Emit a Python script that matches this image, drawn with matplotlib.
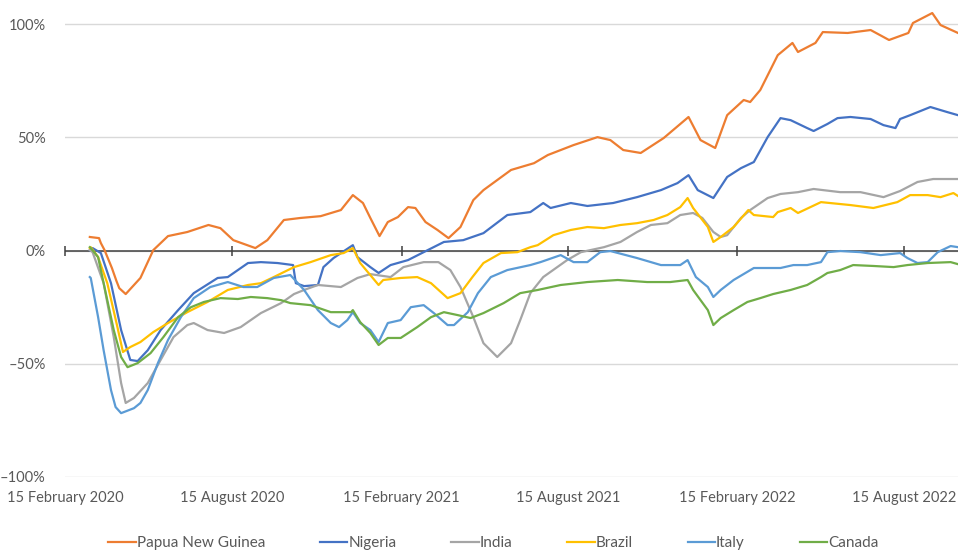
import matplotlib
matplotlib.use("Agg")
import matplotlib.pyplot as plt
import matplotlib.ticker as mticker
import pandas as pd

plt.rcParams["font.family"] = ["Lato", "DejaVu Sans"]

START = pd.Timestamp("2020-02-15")

# Change versus baseline (%), sampled at days since 15 February 2020
days_png = [27, 37, 39, 43, 51, 56, 59, 66, 82, 96, 112, 133, 156, 169, 183, 207, 220, 238,
            256, 278, 300, 313, 324, 332, 342, 351, 362, 373, 381, 392, 405, 417, 430, 444,
            455, 485, 510, 525, 553, 579, 593, 607, 626, 651, 678, 691, 707, 720, 738, 745,
            756, 775, 791, 797, 816, 824, 851, 876, 896, 917, 922, 943, 952, 971]
pct_png = [6.0, 5.5, 3.3, 0.2, -7.7, -13.5, -16.6, -19.2, -12.1, 0.2, 6.4, 8.2, 11.3, 9.9,
           4.6, 1.1, 4.6, 13.5, 14.4, 15.2, 17.9, 24.5, 21.0, 14.4, 6.4, 12.6, 14.8, 19.2,
           18.8, 12.6, 9.1, 5.5, 10.4, 22.3, 26.7, 35.6, 38.6, 42.2, 46.6, 50.1, 48.8, 44.4,
           43.1, 49.7, 59.0, 48.8, 45.3, 59.8, 66.5, 65.6, 70.9, 86.3, 91.7, 87.7, 91.7, 96.5,
           96.1, 97.4, 93.0, 96.1, 100.5, 104.9, 99.6, 96.1]

days_nga = [27, 30, 39, 50, 61, 71, 79, 90, 104, 123, 140, 166, 177, 199, 213, 231, 248,
            251, 260, 275, 281, 292, 313, 318, 332, 341, 354, 373, 390, 412, 433, 455, 481,
            506, 520, 528, 550, 568, 596, 622, 648, 666, 678, 688, 705, 720, 735, 749, 764,
            778, 789, 807, 814, 829, 840, 854, 876, 890, 903, 908, 919, 941, 959, 971]
pct_nga = [0.2, 1.1, -1.1, -14.4, -35.1, -48.3, -48.8, -44.0, -35.1, -26.3, -18.8, -12.1,
           -11.7, -5.5, -5.1, -5.5, -6.4, -14.4, -15.7, -15.2, -7.3, -3.3, 2.4, -2.9, -7.3,
           -9.9, -6.4, -4.2, -0.7, 3.8, 4.6, 7.7, 15.7, 17.0, 21.0, 18.8, 21.0, 19.7, 21.0,
           23.6, 26.7, 29.8, 33.3, 26.7, 23.2, 32.5, 36.4, 39.1, 50.1, 58.5, 57.6, 54.1, 52.8,
           55.9, 58.5, 59.0, 58.1, 55.4, 54.1, 58.1, 59.8, 63.4, 61.2, 59.8]

days_ind = [27, 30, 42, 53, 61, 66, 75, 90, 104, 118, 133, 140, 155, 173, 191, 213, 235,
            249, 260, 275, 300, 318, 332, 354, 368, 390, 406, 419, 430, 444, 455, 470, 485,
            495, 506, 520, 546, 561, 586, 604, 622, 637, 655, 669, 683, 693, 705, 713, 720,
            735, 745, 764, 778, 797, 814, 843, 865, 890, 908, 927, 944, 971]
pct_ind = [0.2, -0.7, -14.4, -38.2, -58.5, -67.3, -65.1, -58.5, -48.3, -38.2, -32.9, -32.0,
           -35.1, -36.4, -33.8, -27.6, -23.2, -19.2, -17.4, -15.2, -16.1, -12.1, -10.4, -11.7,
           -7.3, -5.1, -5.1, -8.6, -16.1, -29.4, -40.9, -47.0, -40.9, -30.7, -18.8, -11.7,
           -4.2, -0.7, 1.5, 3.8, 8.2, 11.3, 12.1, 15.7, 16.6, 14.4, 8.2, 6.0, 6.8, 14.4, 17.9,
           23.2, 25.0, 25.8, 27.2, 25.8, 25.8, 23.6, 26.3, 30.3, 31.6, 31.6]

days_bra = [27, 28, 36, 46, 57, 63, 71, 82, 96, 112, 133, 155, 177, 199, 213, 227, 249, 267,
            289, 303, 313, 321, 341, 346, 365, 383, 398, 416, 430, 443, 455, 474, 492, 506,
            514, 531, 550, 568, 586, 604, 622, 640, 655, 669, 677, 683, 699, 705, 713, 727,
            743, 749, 770, 775, 789, 797, 822, 854, 879, 905, 919, 938, 952, 966, 971]
pct_bra = [1.1, 1.5, -2.9, -14.4, -33.8, -44.8, -42.6, -40.4, -36.0, -32.0, -27.2, -22.7,
           -17.4, -15.2, -14.4, -11.7, -7.3, -5.1, -2.0, -1.1, 1.1, -5.5, -15.2, -13.0, -12.1,
           -11.7, -14.4, -21.0, -18.8, -11.7, -5.5, -1.1, -0.7, 1.5, 2.4, 6.8, 9.1, 10.4, 9.9,
           11.3, 12.1, 13.5, 15.7, 19.2, 23.2, 18.8, 10.4, 3.8, 6.0, 10.4, 17.9, 15.7, 14.8,
           17.0, 18.8, 16.6, 21.4, 20.1, 18.8, 21.4, 24.5, 24.5, 23.6, 25.4, 24.1]

days_ita = [27, 28, 36, 42, 50, 55, 61, 75, 82, 90, 101, 112, 126, 140, 158, 177, 194, 209,
            227, 245, 260, 275, 289, 298, 307, 313, 321, 332, 341, 351, 365, 376, 390, 401,
            416, 423, 438, 449, 463, 481, 506, 517, 539, 553, 568, 582, 593, 622, 648, 669,
            677, 686, 699, 705, 713, 727, 749, 778, 792, 807, 822, 829, 843, 865, 887, 908,
            916, 927, 938, 949, 963, 971]
pct_ita = [-11.7, -12.1, -29.4, -44.0, -61.6, -69.1, -71.8, -69.6, -67.3, -61.6, -49.7,
           -39.5, -29.4, -21.0, -16.1, -13.9, -16.1, -16.1, -12.1, -10.8, -17.4, -26.3, -32.0,
           -33.8, -30.7, -27.2, -32.0, -35.1, -40.4, -32.0, -30.7, -25.0, -24.1, -27.6, -32.9,
           -32.9, -27.2, -18.8, -11.7, -8.6, -6.4, -5.1, -2.0, -5.1, -5.1, -0.7, -0.2, -3.3,
           -6.4, -6.4, -4.2, -11.7, -16.1, -20.5, -17.4, -13.0, -7.7, -7.7, -6.4, -6.4, -5.1,
           -0.7, -0.2, -0.7, -2.0, -1.1, -3.3, -5.5, -5.1, -0.7, 2.0, 1.5]

days_can = [27, 28, 36, 42, 53, 61, 68, 79, 93, 107, 123, 137, 151, 169, 188, 202, 220, 235,
            245, 267, 289, 311, 313, 321, 332, 341, 351, 365, 383, 398, 412, 427, 441, 455,
            477, 495, 514, 539, 568, 601, 633, 658, 677, 683, 699, 705, 713, 727, 742, 756,
            770, 789, 807, 822, 829, 843, 857, 879, 901, 916, 938, 963, 971]
pct_can = [1.5, 1.1, -2.9, -14.4, -35.1, -47.0, -51.5, -49.7, -45.3, -38.2, -29.4, -25.0,
           -22.7, -21.0, -21.4, -20.5, -21.0, -21.9, -23.2, -24.1, -27.2, -27.2, -26.3, -31.6,
           -36.4, -41.7, -38.6, -38.6, -33.8, -29.4, -27.2, -28.5, -29.8, -27.6, -23.2, -18.8,
           -17.4, -15.2, -13.9, -13.0, -13.9, -13.9, -13.0, -17.4, -26.3, -32.9, -29.8, -26.3,
           -22.7, -21.0, -19.2, -17.4, -15.2, -11.7, -9.9, -8.6, -6.4, -6.8, -7.3, -6.4, -5.5,
           -5.1, -6.0]

countries = ["Papua New Guinea", "Nigeria", "India", "Brazil", "Italy", "Canada"]
series_days = [days_png, days_nga, days_ind, days_bra, days_ita, days_can]
series_pct = [pct_png, pct_nga, pct_ind, pct_bra, pct_ita, pct_can]
colors = ["#ED7D31", "#4472C4", "#A5A5A5", "#FFC000", "#5B9BD5", "#70AD47"]

tick_dates = pd.to_datetime(["2020-02-15", "2020-08-15", "2021-02-15",
                             "2021-08-15", "2022-02-15", "2022-08-15"])
y_ticks = [-100, -50, 0, 50, 100]

TEXT = "#595959"
FS = 10.5

fig = plt.figure(figsize=(9.58, 5.52), dpi=100)
ax = fig.add_axes([65 / 958, 1 - 477 / 552, (958 - 65) / 958, (477 - 1.5) / 552])

for name, d, v, c in zip(countries, series_days, series_pct, colors):
    dates = START + pd.to_timedelta(d, unit="D")
    ax.plot(dates, v, color=c, lw=1.6, label=name, solid_joinstyle="round")

ax.set_ylim(-100, 110)
ax.set_xlim(START, START + pd.Timedelta(days=max(days_png)))

ax.set_yticks(y_ticks)
ax.yaxis.set_major_formatter(mticker.FuncFormatter(
    lambda v, _: f"{v:.0f}%".replace("-", "\u2013")))
ax.set_xticks(tick_dates)
ax.set_xticklabels([f"{d.day} {d:%B %Y}" for d in tick_dates])
ax.tick_params(axis="both", length=0, colors=TEXT, labelsize=FS)
ax.tick_params(axis="x", pad=10)
ax.tick_params(axis="y", pad=14)

ax.grid(axis="y", color="#D9D9D9", lw=1.0)
ax.set_axisbelow(True)
for s in ax.spines.values():
    s.set_visible(False)

# zero baseline with date ticks crossing it
ax.axhline(0, color="#404040", lw=1.1, zorder=1.5)
ax.vlines(tick_dates, -2.2, 2.2, color="#404040", lw=1.1, zorder=1.5, clip_on=False)

fig.legend(loc="center", bbox_to_anchor=(0.515, 1 - 543 / 552), ncol=6, frameon=False,
           handlelength=1.8, handletextpad=0.05, columnspacing=3.6, fontsize=11,
           labelcolor=TEXT)

fig.savefig("out.png", dpi=100)
